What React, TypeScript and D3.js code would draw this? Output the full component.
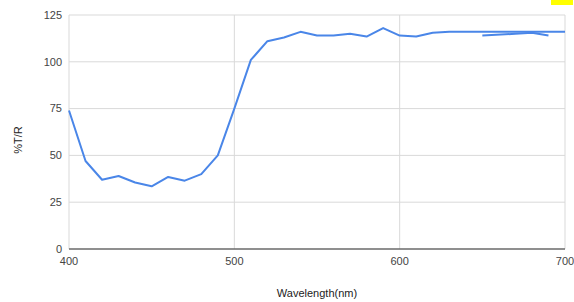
import React, { useEffect, useRef } from 'react';
import * as d3 from 'd3';

const wavelengths = [400, 410, 420, 430, 440, 450, 460, 470, 480, 490, 500, 510, 520, 530, 540, 550, 560, 570, 580, 590, 600, 610, 620, 630, 640, 650, 660, 670, 680, 690, 700];
const transmission = [74, 47, 37, 39, 35.5, 33.5, 38.5, 36.5, 40, 50, 75, 101, 111, 113, 116, 114, 114, 115, 113.5, 118, 114, 113.5, 115.5, 116, 116, 116, 116, 116, 116, 116, 116];

// short overlapping trace near the right edge
const extraWavelengths = [650, 670, 680, 690];
const extraValues = [114, 115, 115.5, 114];

const xTicks = [400, 500, 600, 700];
const yTicks = [0, 25, 50, 75, 100, 125];

export default function App() {
  const ref = useRef<SVGSVGElement>(null);

  useEffect(() => {
    if (!ref.current) return;
    const svg = d3.select(ref.current);
    svg.selectAll('*').remove();

    const W = 574, H = 302;
    const margin = { top: 15, right: 9, bottom: 53, left: 69 };
    const width = W - margin.left - margin.right;
    const height = H - margin.top - margin.bottom;
    const font = 'Liberation Sans, Arial, sans-serif';

    const x = d3.scaleLinear().domain([400, 700]).range([0, width]);
    const y = d3.scaleLinear().domain([0, 125]).range([height, 0]);

    svg.append('rect').attr('width', W).attr('height', H).attr('fill', '#fff');
    // yellow marker top right
    svg.append('rect').attr('x', 551).attr('y', 0).attr('width', 22).attr('height', 5).attr('fill', '#ffff00');

    const g = svg.append('g').attr('transform', `translate(${margin.left},${margin.top})`);

    // gridlines
    g.selectAll('.hgrid')
      .data(yTicks)
      .enter().append('line')
      .attr('x1', 0).attr('x2', width)
      .attr('y1', d => y(d)).attr('y2', d => y(d))
      .attr('stroke', '#d9d9d9').attr('stroke-width', 1);

    g.selectAll('.vgrid')
      .data(xTicks)
      .enter().append('line')
      .attr('x1', d => x(d)).attr('x2', d => x(d))
      .attr('y1', 0).attr('y2', height)
      .attr('stroke', '#d9d9d9').attr('stroke-width', 1);

    // baseline
    g.append('line')
      .attr('x1', 0).attr('x2', width)
      .attr('y1', y(0)).attr('y2', y(0))
      .attr('stroke', '#333').attr('stroke-width', 1);

    // tick labels
    g.selectAll('.ylab')
      .data(yTicks)
      .enter().append('text')
      .attr('x', -7).attr('y', d => y(d))
      .attr('dy', '0.35em')
      .attr('text-anchor', 'end')
      .style('font-family', font).style('font-size', '11px').style('fill', '#444')
      .text(d => d);

    g.selectAll('.xlab')
      .data(xTicks)
      .enter().append('text')
      .attr('x', d => x(d)).attr('y', height + 12)
      .attr('dy', '0.35em')
      .attr('text-anchor', 'middle')
      .style('font-family', font).style('font-size', '11px').style('fill', '#444')
      .text(d => d);

    // axis titles
    g.append('text')
      .attr('x', width / 2).attr('y', height + 44)
      .attr('dy', '0.35em')
      .attr('text-anchor', 'middle')
      .style('font-family', font).style('font-size', '11px').style('fill', '#222')
      .text('Wavelength(nm)');

    g.append('text')
      .attr('transform', `translate(${-51},${height / 2 + 8}) rotate(-90)`)
      .attr('dy', '0.35em')
      .attr('text-anchor', 'middle')
      .style('font-family', font).style('font-size', '11px').style('fill', '#222')
      .text('%T/R');

    const line = d3.line<[number, number]>()
      .x(d => x(d[0]))
      .y(d => y(d[1]));

    const main = wavelengths.map((w, i) => [w, transmission[i]] as [number, number]);
    const extra = extraWavelengths.map((w, i) => [w, extraValues[i]] as [number, number]);

    [main, extra].forEach(data => {
      g.append('path')
        .datum(data)
        .attr('d', line)
        .attr('fill', 'none')
        .attr('stroke', '#4a86e8')
        .attr('stroke-width', 2)
        .attr('stroke-linejoin', 'round');
    });
  }, []);

  return (
    <svg ref={ref} width={574} height={302} style={{ position: 'absolute', left: 0, top: 0 }} />
  );
}
